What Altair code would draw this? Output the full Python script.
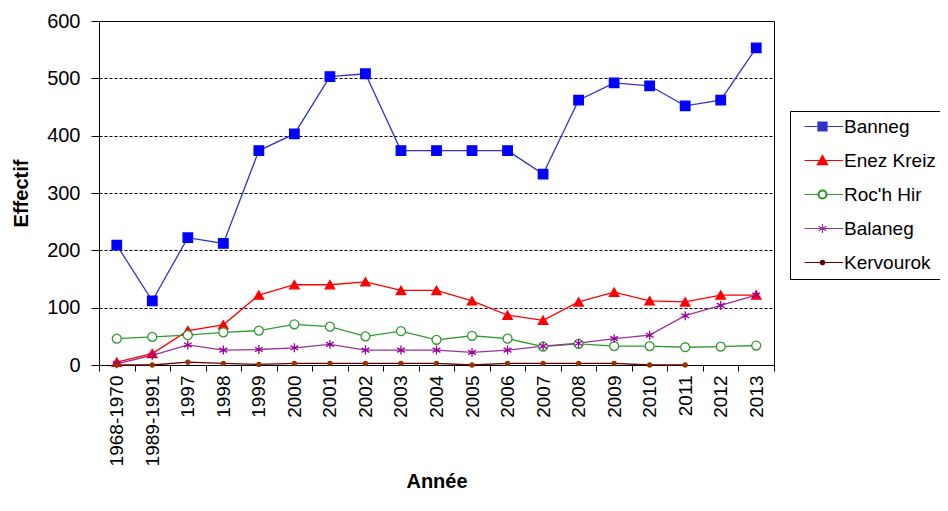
import altair as alt
import pandas as pd

years = ["1968-1970", "1989-1991", "1997", "1998", "1999", "2000", "2001", "2002", "2003",
         "2004", "2005", "2006", "2007", "2008", "2009", "2010", "2011", "2012", "2013"]
series = ["Banneg", "Enez Kreiz", "Roc'h Hir", "Balaneg", "Kervourok"]

banneg = [209, 112, 222, 212, 374, 403, 503, 508, 374, 374, 374, 374, 333, 462, 492, 487, 452, 462, 553]
enez_kreiz = [5, 20, 60, 70, 122, 140, 140, 145, 130, 130, 112, 87, 78, 110, 127, 112, 110, 122, 122]
roch_hir = [46, 49, 52, 57, 60, 71, 67, 50, 59, 44, 51, 46, 32, 37, 33, 33, 31, 32, 34]
balaneg = [2, 17, 35, 26, 27, 30, 36, 26, 26, 26, 22, 26, 33, 38, 46, 52, 86, 104, 122]
kervourok = [0, 0, 5, 3, 1, 3, 3, 3, 3, 3, 0, 3, 3, 3, 3, 0, 0, None, None]

line_colors = ["#3333CC", "#FF0000", "#339933", "#993399", "#660000"]
marker_colors = ["#0000FF", "#FF0000", "#339933", "#990099", "#993300"]

rows = []
for name, vals in zip(series, [banneg, enez_kreiz, roch_hir, balaneg, kervourok]):
    for y, v in zip(years, vals):
        if v is not None:
            rows.append({"Annee": y, "Serie": name, "Effectif": v})
df = pd.DataFrame(rows)

FONT = "Liberation Sans"

x_enc = alt.X("Annee:N", sort=years, bandPosition=0.5,
              scale=alt.Scale(type="band", domain=years, paddingInner=0, paddingOuter=0),
              axis=alt.Axis(title="Année", labelAngle=-90, tickBand="extent", grid=False,
                            domainColor="black", tickColor="black", tickSize=6,
                            labelFontSize=19, labelColor="black", labelPadding=4,
                            titleFontSize=20, titleFontWeight="bold", titleColor="black",
                            titlePadding=6))
y_enc = alt.Y("Effectif:Q", scale=alt.Scale(domain=[0, 600], nice=False),
              axis=alt.Axis(title="Effectif", values=[0, 100, 200, 300, 400, 500, 600],
                            grid=True, gridColor="black", gridDash=[3, 2], gridWidth=1,
                            domainColor="black", tickColor="black", tickSize=8,
                            labelFontSize=20, labelColor="black", labelPadding=11,
                            titleFontSize=20, titleFontWeight="bold", titleColor="black",
                            titlePadding=15))

base = alt.Chart(df)

# legend symbols: a line segment with the series marker on it
legend_shapes = [
    "M-4,0L4.6,0M-1,-1L1,-1L1,1L-1,1Z",
    "M-4,0L4.6,0M0,-1.1L1.15,0.9L-1.15,0.9Z",
    "M-4,0L-1,0M1,0L4.6,0M-1,0A1,1 0 1,1 1,0A1,1 0 1,1 -1,0ZM-0.78,0A0.78,0.78 0 1,0 0.78,0A0.78,0.78 0 1,0 -0.78,0Z",
    "M-4,0L4.6,0M0,-1L0,1M-0.87,-0.5L0.87,0.5M-0.87,0.5L0.87,-0.5",
    "M-4,0L4.6,0M-0.5,0A0.5,0.5 0 1,0 0.5,0A0.5,0.5 0 1,0 -0.5,0Z",
]

leg = alt.Legend(orient="none", legendX=691, legendY=90, title="",
                 strokeColor="black", fillColor="white", padding=6,
                 labelFontSize=19, labelColor="black", labelFont=FONT,
                 symbolSize=81, symbolStrokeWidth=1.2, labelOffset=12,
                 symbolOffset=17, rowPadding=14, symbolType="circle")

lines = base.mark_line(strokeWidth=1.3).encode(
    x=x_enc, y=y_enc,
    color=alt.Color("Serie:N", sort=series, scale=alt.Scale(domain=series, range=line_colors),
                    legend=leg),
    shape=alt.Shape("Serie:N", sort=series, scale=alt.Scale(domain=series, range=legend_shapes),
                    legend=leg),
    detail="Serie:N",
)

shapes_plot = ["square", "triangle-up", "circle",
               "M0,-1L0,1M-0.87,-0.5L0.87,0.5M-0.87,0.5L0.87,-0.5", "circle"]
fills_plot = [marker_colors[0], marker_colors[1], "white", "transparent", marker_colors[4]]
sizes_plot = [90, 90, 80, 80, 16]

point_layers = []
for i, name in enumerate(series):
    pl = base.transform_filter(alt.datum["Serie"] == name).mark_point(
        shape=shapes_plot[i], filled=True, fill=fills_plot[i], stroke=marker_colors[i],
        strokeWidth=1.3, size=sizes_plot[i], opacity=1,
    ).encode(x=x_enc, y=y_enc)
    point_layers.append(pl)

chart = alt.layer(lines, *point_layers).properties(
    width=675, height=344,
    autosize=alt.AutoSizeParams(type="none"),
    padding={"left": 91, "top": 13, "right": 166, "bottom": 138},
).configure(font=FONT).configure_view(stroke="black", strokeWidth=1).configure_axis(
    labelFont=FONT, titleFont=FONT)

chart.save("out.html", embed_options={"renderer": "svg", "actions": False})
